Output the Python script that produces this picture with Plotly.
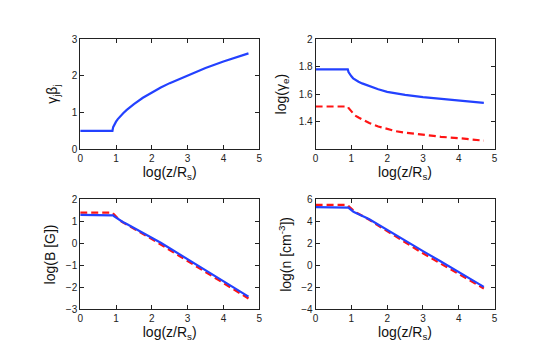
import plotly.graph_objects as go

# log(z/R_s) sample points
z = [0, 0.9, 0.92, 0.95, 1.0, 1.05, 1.1, 1.2, 1.3, 1.4, 1.5, 1.75, 2.0, 2.25, 2.5,
     3.0, 3.5, 4.0, 4.5, 4.7]

gamma_beta = [0.5, 0.5, 0.6, 0.67, 0.75, 0.82, 0.88, 0.98, 1.07, 1.15, 1.23, 1.40, 1.55,
              1.68, 1.80, 2.01, 2.21, 2.39, 2.55, 2.61]

log_gamma_e_blue = [1.78, 1.78, 1.76, 1.745, 1.73, 1.715, 1.705, 1.69, 1.678, 1.668, 1.66,
                    1.635, 1.617, 1.605, 1.595, 1.578, 1.565, 1.553, 1.542, 1.537]
log_gamma_e_red = [1.51, 1.51, 1.50, 1.49, 1.47, 1.455, 1.445, 1.43, 1.415, 1.40, 1.39,
                   1.365, 1.345, 1.33, 1.32, 1.303, 1.29, 1.28, 1.268, 1.262]

log_B_blue = [1.3, 1.3, 1.27, 1.23, 1.17, 1.1, 1.05, 0.96, 0.88, 0.79, 0.7, 0.49, 0.28,
              0.03, -0.22, -0.72, -1.22, -1.72, -2.22, -2.42]
log_B_red = [1.4, 1.4, 1.36, 1.3, 1.2, 1.12, 1.05, 0.95, 0.86, 0.76, 0.66, 0.43, 0.2,
             -0.05, -0.3, -0.8, -1.3, -1.8, -2.3, -2.5]

log_n_blue = [5.3, 5.3, 5.25, 5.15, 5.0, 4.9, 4.8, 4.67, 4.52, 4.36, 4.2, 3.73, 3.25,
              2.77, 2.28, 1.3, 0.35, -0.6, -1.57, -1.95]
log_n_red = [5.5, 5.5, 5.4, 5.3, 5.1, 4.97, 4.85, 4.7, 4.52, 4.34, 4.15, 3.62, 3.1,
             2.6, 2.1, 1.1, 0.15, -0.8, -1.75, -2.1]

BLUE = "rgb(35,65,255)"
RED = "rgb(255,20,20)"

fig = go.Figure()

def solid(x, y, xa, ya):
    fig.add_trace(go.Scatter(x=x, y=y, mode="lines", xaxis=xa, yaxis=ya,
                             line=dict(color=BLUE, width=2.2)))

def dashed(x, y, xa, ya):
    fig.add_trace(go.Scatter(x=x, y=y, mode="lines", xaxis=xa, yaxis=ya,
                             line=dict(color=RED, width=2.2, dash="7px,4px")))

solid(z, gamma_beta, "x", "y")
dashed(z, log_gamma_e_red, "x2", "y2")
solid(z, log_gamma_e_blue, "x2", "y2")
dashed(z, log_B_red, "x3", "y3")
solid(z, log_B_blue, "x3", "y3")
dashed(z, log_n_red, "x4", "y4")
solid(z, log_n_blue, "x4", "y4")

W, H = 540, 348
col_l = [70 / W, 251 / W]
col_r = [308 / W, 489 / W]
row_t = [1 - 140 / H, 1 - 26 / H]
row_b = [1 - 306 / H, 1 - 192 / H]

tickfont = dict(family="Liberation Sans, Arial", size=10, color="#222")
titlefont = dict(family="Liberation Sans, Arial", size=14, color="#111")

def ax_style(**kw):
    d = dict(showline=True, linecolor="#222", linewidth=1, mirror="ticks",
             ticks="inside", ticklen=4, tickcolor="#222", showgrid=False,
             zeroline=False, tickfont=tickfont, title_font=titlefont)
    d.update(kw)
    return d

xtitle = "log(z/R<sub>s</sub>)"
xkw = dict(range=[0, 5], tickvals=[0, 1, 2, 3, 4, 5], title_text=xtitle, title_standoff=2)

fig.update_layout(
    width=W, height=H,
    margin=dict(l=0, r=0, t=0, b=0),
    paper_bgcolor="white", plot_bgcolor="white",
    showlegend=False,
    xaxis=ax_style(domain=col_l, anchor="y", **xkw),
    yaxis=ax_style(domain=row_t, anchor="x", range=[0, 3], tickvals=[0, 1, 2, 3],
                   title_text="γ<sub>j</sub>β<sub>j</sub>", title_standoff=10),
    xaxis2=ax_style(domain=col_r, anchor="y2", **xkw),
    yaxis2=ax_style(domain=row_t, anchor="x2", range=[1.2, 2], tickvals=[1.4, 1.6, 1.8, 2],
                    ticktext=["1.4", "1.6", "1.8", "2"],
                    title_text="log(γ<sub>e</sub>)", title_standoff=8),
    xaxis3=ax_style(domain=col_l, anchor="y3", **xkw),
    yaxis3=ax_style(domain=row_b, anchor="x3", range=[-3, 2], tickvals=[-3, -2, -1, 0, 1, 2],
                    title_text="log(B [G])", title_standoff=6),
    xaxis4=ax_style(domain=col_r, anchor="y4", **xkw),
    yaxis4=ax_style(domain=row_b, anchor="x4", range=[-4, 6], tickvals=[-4, -2, 0, 2, 4, 6],
                    title_text="log(n [cm<sup>-3</sup>])", title_standoff=6),
)

fig.write_html("out.html")
